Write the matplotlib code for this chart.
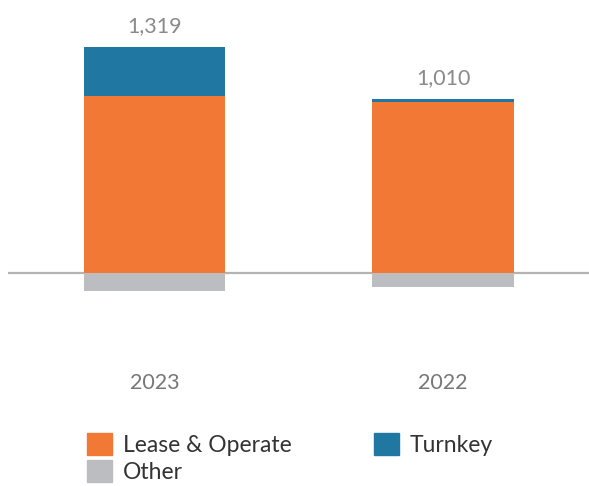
import matplotlib.pyplot as plt
from matplotlib.patches import Patch
from matplotlib.transforms import blended_transform_factory

years = ['2023', '2022']
lease_operate = [1121, 1081]
turnkey = [310, 17]
other = [-112, -88]
totals = [1319, 1010]
total_labels = ['1,319', '1,010']

c_lease = '#F17835'
c_turn = '#1F77A2'
c_other = '#BCBDC0'

plt.rcParams['font.family'] = ['Lato', 'DejaVu Sans']

fig = plt.figure(figsize=(5.89, 4.86), dpi=100)
W, H = 589, 486
# axes from x=8..589 px, y=20..320 px (from top)
ax = fig.add_axes([8 / W, 1 - 320 / H, (589 - 8) / W, 300 / H])

x = [0, 1]
bw = 0.49
ax.axhline(0, color='#B3B3B3', lw=1.6, zorder=1)
ax.bar(x, lease_operate, width=bw, color=c_lease, zorder=2)
tops = [a + b for a, b in zip(lease_operate, turnkey)]
ax.bar(x, turnkey, width=bw, bottom=lease_operate, color=c_turn, zorder=2)
ax.bar(x, other, width=bw, color=c_other, zorder=2)

for xi, top, lab in zip(x, tops, total_labels):
    ax.annotate(lab, (xi, top), xytext=(0, 15), textcoords='offset points',
                ha='center', va='center', fontsize=15.5, color='#8A8A8A')

scale = 6.32
ax.set_xlim((8 - 154.4) / 288.6, (589 - 154.4) / 288.6)
ax.set_ylim(-(320 - 273) * scale, (273 - 20) * scale)
ax.axis('off')

tr = blended_transform_factory(ax.transData, fig.transFigure)
for xi, yr in zip(x, years):
    ax.text(xi, 1 - 383 / H, yr, transform=tr, ha='center', va='center',
            fontsize=15.5, color='#777777')

handles = [Patch(color=c_lease, label='Lease & Operate'),
           Patch(color=c_other, label='Other'),
           Patch(color=c_turn, label='Turnkey')]
fig.legend(handles=handles, ncol=2, loc='upper left',
           bbox_to_anchor=(87 / W, 1 - 433 / H), frameon=False,
           fontsize=16.5, handlelength=1.1, handleheight=1.1,
           handletextpad=0.45, columnspacing=3.6, labelspacing=0.2,
           borderpad=0, borderaxespad=0, labelcolor='#333333')

fig.savefig('out.png', dpi=100)
